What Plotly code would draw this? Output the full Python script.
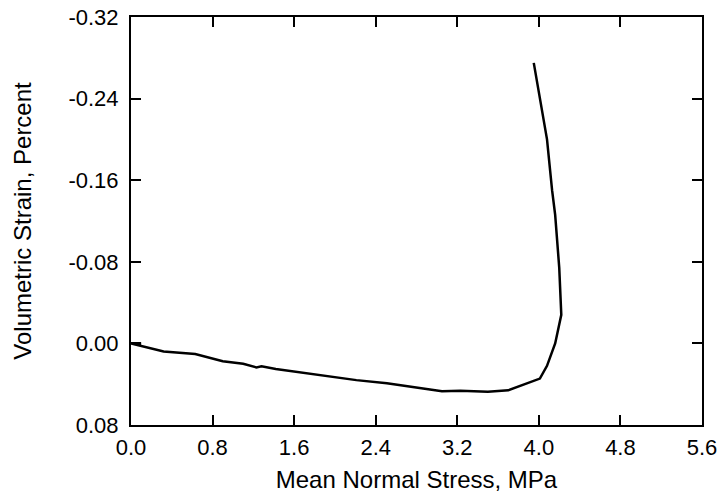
import plotly.graph_objects as go

# mean normal stress (MPa) and volumetric strain (percent)
stress = [0.10, 0.00, 0.32, 0.63, 0.90, 1.10, 1.23, 1.28, 1.42, 1.85, 2.21, 2.51,
          2.80, 3.05, 3.23, 3.50, 3.70, 3.88, 4.01, 4.08, 4.16, 4.22, 4.20, 4.16,
          4.13, 4.08, 3.95]
strain = [0.000, 0.000, 0.008, 0.0105, 0.0175, 0.020, 0.0235, 0.0225, 0.025, 0.031,
          0.036, 0.039, 0.0435, 0.047, 0.0465, 0.0475, 0.046, 0.039, 0.0345, 0.022,
          0.000, -0.028, -0.074, -0.126, -0.150, -0.200, -0.275]

x_ticks = [0.0, 0.8, 1.6, 2.4, 3.2, 4.0, 4.8, 5.6]
y_ticks = [-0.32, -0.24, -0.16, -0.08, 0.0, 0.08]
y_labels = ["-0.32", "-0.24", "-0.16", "-0.08", "0.00", "0.08"]

font = "Liberation Sans, Arial, sans-serif"

fig = go.Figure()
fig.add_trace(go.Scatter(x=stress, y=strain, mode="lines",
                         line=dict(color="black", width=2.5), showlegend=False))

axis_style = dict(showline=True, linecolor="black", linewidth=2, mirror="ticks",
                  ticks="inside", ticklen=10, tickwidth=2, tickcolor="black",
                  showgrid=False, zeroline=False, automargin=False,
                  tickfont=dict(family=font, size=22, color="black"))

fig.update_xaxes(range=[0, 5.6], tickvals=x_ticks,
                 ticktext=[f"{v:.1f}" for v in x_ticks], ticklabelstandoff=2,
                 title=dict(text="Mean Normal Stress, MPa", standoff=12,
                            font=dict(family=font, size=24, color="black")),
                 **axis_style)
fig.update_yaxes(range=[0.08, -0.32], tickvals=y_ticks, ticktext=y_labels,
                 ticklabelstandoff=6,
                 title=dict(text="Volumetric Strain, Percent", standoff=30,
                            font=dict(family=font, size=24, color="black")),
                 **axis_style)

fig.update_layout(width=723, height=496, margin=dict(l=131, r=21, t=17, b=71),
                  plot_bgcolor="white", paper_bgcolor="white")

# drop the browser's default body margin so the figure sits at the page corner
fig.write_html("out.html", config={"displayModeBar": False},
               post_script="document.body.style.margin = '0';")
